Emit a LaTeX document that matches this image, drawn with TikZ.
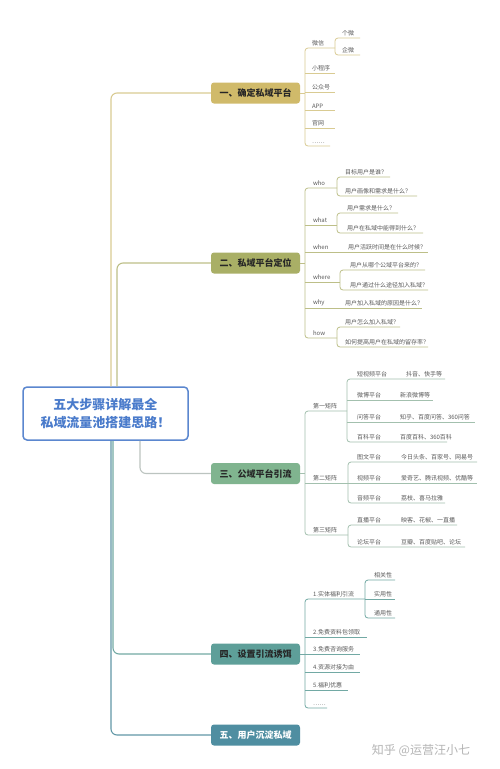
\documentclass[tikz,border=0pt]{standalone}
\usepackage{fontspec}
\newfontfamily\cjk{Noto Sans CJK SC}
\usetikzlibrary{calc}
\definecolor{s1f}{HTML}{D0BA6A}
\definecolor{l1}{HTML}{D9CB92}
\definecolor{s2f}{HTML}{A9AF66}
\definecolor{l2}{HTML}{BDBF88}
\definecolor{s3f}{HTML}{80B48F}
\definecolor{l3}{HTML}{A3C0AE}
\definecolor{l3r}{HTML}{BCC4C0}
\definecolor{s4f}{HTML}{5E9F99}
\definecolor{l4}{HTML}{72A9A4}
\definecolor{s5f}{HTML}{4F8EA1}
\definecolor{l5}{HTML}{6298A7}
\definecolor{rootb}{HTML}{5B87CF}
\definecolor{roott}{HTML}{4A7BCB}
\definecolor{txt}{HTML}{5A5A5A}
\definecolor{wm}{HTML}{B5B5B5}
\begin{document}
\begin{tikzpicture}[x=1pt,y=-1pt,
  sec/.style={rounded corners=3pt, minimum width=89pt, minimum height=21pt, inner sep=0pt, text=black!85, font=\cjk\bfseries\fontsize{9}{10}\selectfont},
  lf/.style={anchor=south west, inner sep=0.8pt, font=\cjk\fontsize{6}{7}\selectfont, text=txt},
  ln/.style={line width=0.8pt},
  mn/.style={line width=1.1pt, rounded corners=6pt},
  br/.style={line width=0.8pt, rounded corners=3pt}]
\useasboundingbox[fill=white] (0,0) rectangle (500,769);

% root
\node[draw=rootb, line width=1.5pt, fill=white, rounded corners=4pt, minimum width=165pt, minimum height=53pt, align=center, text=roott, font=\cjk\bfseries\fontsize{13}{18}\selectfont] (root) at (105.5,413.5) {五大步骤详解最全\\私域流量池搭建思路！};

% section nodes
\node[sec, fill=s1f] (s1) at (255.5,93) {一、确定私域平台};
\node[sec, fill=s2f] (s2) at (255.5,263) {二、私域平台定位};
\node[sec, fill=s3f] (s3) at (255.5,473.5) {三、公域平台引流};
\node[sec, fill=s4f] (s4) at (255.5,654) {四、设置引流诱饵};
\node[sec, fill=s5f, text=white] (s5) at (255.5,735) {五、用户沉淀私域};

% root connectors
\coordinate (k1) at (111,0);
\coordinate (k2) at (117,0);
\coordinate (k3) at (140,0);
\coordinate (k4) at (113,0);
\coordinate (k5) at (111,0);
\draw[mn,l1] (k1 |- root.north) -- (k1 |- s1.west) -- (s1.west);
\draw[mn,l2] (k2 |- root.north) -- (k2 |- s2.west) -- (s2.west);
\draw[mn,l3r] (k3 |- root.south) -- (k3 |- s3.west) -- (s3.west);
\draw[mn,l4] (k4 |- root.south) -- (k4 |- s4.west) -- (s4.west);
\draw[mn,l5] (k5 |- root.south) -- (k5 |- s5.west) -- (s5.west);

% ---------- section 1
\draw[ln,l1] (s1.east) -- (305,93);
\draw[br,l1] (335,48) -- (305,48) -- (305,146) -- (330,146);
\foreach \y in {73,92,110,128} \draw[ln,l1] (305,\y) -- (335,\y);
\draw[br,l1] (360,38) -- (335,38) -- (335,55) -- (360,55);
\node[lf] (a1) at (311,47) {微信};
\node[lf] (a2) at (311,72) {小程序};
\node[lf] (a3) at (311,91) {公众号};
\node[lf] (a4) at (311,109) {APP};
\node[lf] (a5) at (311,127) {官网};
\node[lf] (a6) at (311,145) {……};
\node[lf] (a11) at (341,37) {个微};
\node[lf] (a12) at (341,54) {企微};

% ---------- section 2
\draw[ln,l2] (s2.east) -- (305,263);
\draw[br,l2] (337,188) -- (305,188) -- (305,338) -- (337,338);
\foreach \y/\e in {225/337,252/428,282/340,308/422} \draw[ln,l2] (305,\y) -- (\e,\y);
\draw[br,l2] (390,177) -- (337,177) -- (337,196) -- (417,196);
\draw[br,l2] (398,213) -- (337,213) -- (337,233) -- (423,233);
\draw[br,l2] (425,270) -- (340,270) -- (340,290) -- (428,290);
\draw[br,l2] (400,327) -- (337,327) -- (337,347) -- (428,347);
\node[lf] (b1) at (312,187) {who};
\node[lf] (b2) at (312,224) {what};
\node[lf] (b3) at (312,251) {when};
\node[lf] (b4) at (312,281) {where};
\node[lf] (b5) at (312,307) {why};
\node[lf] (b6) at (312,337) {how};
\node[lf] (b11) at (344,176) {目标用户是谁？};
\node[lf] (b12) at (344,195) {用户画像和需求是什么？};
\node[lf] (b21) at (346,212) {用户需求是什么？};
\node[lf] (b22) at (346,232) {用户在私域中能得到什么？};
\node[lf] (b31) at (347,251) {用户活跃时间是在什么时候？};
\node[lf] (b41) at (349,269) {用户从哪个公域平台来的？};
\node[lf] (b42) at (349,289) {用户通过什么途径加入私域？};
\node[lf] (b51) at (344,307) {用户加入私域的原因是什么？};
\node[lf] (b61) at (344,326) {用户怎么加入私域？};
\node[lf] (b62) at (344,346) {如何提高用户在私域的留存率？};

% ---------- section 3
\draw[ln,l3] (s3.east) -- (305,473.5);
\draw[br,l3] (347,411) -- (305,411) -- (305,535) -- (348,535);
\draw[ln,l3] (305,483) -- (348,483);
\draw[br,l3] (445,379) -- (347,379) -- (347,442) -- (447,442);
\draw[ln,l3] (347,400) -- (433,400);
\draw[ln,l3] (347,422) -- (475,422);
\draw[br,l3] (477,462) -- (348,462) -- (348,503) -- (445,503);
\draw[ln,l3] (348,483) -- (477,483);
\draw[br,l3] (457,525) -- (348,525) -- (348,547) -- (465,547);
\node[lf] (c1) at (312,410) {第一矩阵};
\node[lf] (c2) at (312,482) {第二矩阵};
\node[lf] (c3) at (312,534) {第三矩阵};
\node[lf] (c11) at (356,378) {短视频平台};
\node[lf] (c11x) at (405,378) {抖音、快手等};
\node[lf] (c12) at (356,399) {微博平台};
\node[lf] (c12x) at (399,399) {新浪微博等};
\node[lf] (c13) at (356,421) {问答平台};
\node[lf] (c13x) at (399,421) {知乎、百度问答、360问答};
\node[lf] (c14) at (356,441) {百科平台};
\node[lf] (c14x) at (399,441) {百度百科、360百科};
\node[lf] (c21) at (356,461) {图文平台};
\node[lf] (c21x) at (400,461) {今日头条、百家号、网易号};
\node[lf] (c22) at (356,482) {视频平台};
\node[lf] (c22x) at (400,482) {爱奇艺、腾讯视频、优酷等};
\node[lf] (c23) at (356,502) {音频平台};
\node[lf] (c23x) at (400,502) {荔枝、喜马拉雅};
\node[lf] (c31) at (356,524) {直播平台};
\node[lf] (c31x) at (400,524) {映客、花椒、一直播};
\node[lf] (c32) at (356,546) {论坛平台};
\node[lf] (c32x) at (400,546) {豆瓣、百度贴吧、论坛};

% ---------- section 4
\draw[ln,l4] (s4.east) -- (305,654);
\draw[br,l4] (365,599) -- (305,599) -- (305,708) -- (327,708);
\foreach \y/\e in {637/367,654/360,672/360,690/348} \draw[ln,l4] (305,\y) -- (\e,\y);
\draw[br,l4] (395,580) -- (365,580) -- (365,618) -- (395,618);
\draw[ln,l4] (365,599) -- (395,599);
\node[lf] (d1) at (312,598) {1.实体福利引流};
\node[lf] (d2) at (312,636) {2.免费资料包领取};
\node[lf] (d3) at (312,653) {3.免费咨询服务};
\node[lf] (d4) at (312,671) {4.资源对接为由};
\node[lf] (d5) at (312,689) {5.福利优惠};
\node[lf] (d6) at (312,707) {……};
\node[lf] (d11) at (373,579) {相关性};
\node[lf] (d12) at (373,598) {实用性};
\node[lf] (d13) at (373,617) {通用性};

% watermark
\node[font=\cjk\fontsize{12}{14}\selectfont, text=wm, inner sep=0pt] (wm) at (421,750) {知乎 @运营汪小七};
\end{tikzpicture}
\end{document}
